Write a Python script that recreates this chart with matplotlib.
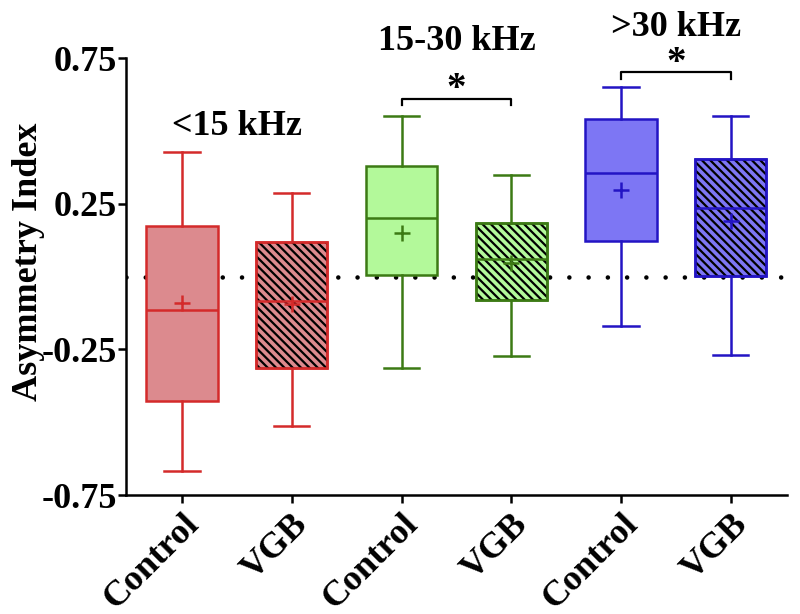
import numpy as np
import matplotlib
matplotlib.use("Agg")
import matplotlib.pyplot as plt
from matplotlib.patches import PathPatch

plt.rcParams['font.family'] = ['Liberation Serif', 'DejaVu Serif']
plt.rcParams['font.weight'] = 'bold'
plt.rcParams['hatch.linewidth'] = 1.6

# data
labels = ['Control', 'VGB', 'Control', 'VGB', 'Control', 'VGB']
whislo = [-0.669, -0.513, -0.314, -0.272, -0.170, -0.268]
q1 = [-0.428, -0.314, 0.005, -0.081, 0.123, 0.003]
med = [-0.115, -0.084, 0.200, 0.060, 0.355, 0.235]
q3 = [0.175, 0.120, 0.381, 0.183, 0.542, 0.404]
whishi = [0.429, 0.285, 0.550, 0.347, 0.649, 0.552]
means = [-0.091, -0.095, 0.149, 0.046, 0.298, 0.189]
hatched = [False, True, False, True, False, True]

groups = ['<15 kHz', '15-30 kHz', '>30 kHz']
group_y = [0.514, 0.807, 0.855]
sig_pairs = [(2, 3), (4, 5)]
sig_y = [0.611, 0.701]

edge_cols = ['#d42a2a', '#3c7a14', '#2314c4']
face_cols = ['#dc8a8e', '#b3f99a', '#7d76f4']

fig = plt.figure(figsize=(8, 6.14), dpi=100)
ax = fig.add_axes([0.1575, 0.1938, 0.826, 0.7117])

pos = np.arange(len(labels))
stats = [dict(whislo=a, q1=b, med=c, q3=d, whishi=e, mean=f, label=l)
         for a, b, c, d, e, f, l in zip(whislo, q1, med, q3, whishi, means, labels)]

# dotted zero line
ax.axhline(0, color='black', lw=3.3, linestyle=(0, (0.001, 4.2)),
           dash_capstyle='round', zorder=1)

bp = ax.bxp(stats, positions=pos, widths=0.65, capwidths=0.32, patch_artist=True,
            showmeans=True, showfliers=False, manage_ticks=False)

lw = 1.8
for i in range(len(labels)):
    ec = edge_cols[i // 2]
    fc = face_cols[i // 2]
    box = bp['boxes'][i]
    box.set_facecolor(fc)
    box.set_edgecolor(ec)
    box.set_linewidth(lw)
    box.set_zorder(2)
    if hatched[i]:
        h = PathPatch(box.get_path(), facecolor='none', edgecolor='black',
                      hatch='\\\\\\\\', lw=0, zorder=2.1)
        ax.add_patch(h)
        o = PathPatch(box.get_path(), facecolor='none', edgecolor=ec, lw=lw, zorder=2.2)
        ax.add_patch(o)
    for k in ('whiskers', 'caps'):
        for ln in bp[k][2 * i:2 * i + 2]:
            ln.set_color(ec)
            ln.set_linewidth(lw)
    bp['medians'][i].set_color(ec)
    bp['medians'][i].set_linewidth(lw)
    bp['medians'][i].set_zorder(2.3)
    m = bp['means'][i]
    m.set_marker('+')
    m.set_markersize(11)
    m.set_markeredgewidth(1.8)
    m.set_markeredgecolor(ec)
    m.set_zorder(2.4)

# group titles
for g, (name, y) in enumerate(zip(groups, group_y)):
    ax.text(pos[2 * g:2 * g + 2].mean(), y, name, ha='center', va='center',
            fontsize=26, fontweight='bold', clip_on=False)

# significance brackets
for (a, b), y in zip(sig_pairs, sig_y):
    ax.plot([pos[a], pos[a], pos[b], pos[b]], [y - 0.022, y, y, y - 0.022],
            color='black', lw=1.6, clip_on=False)
    ax.text((pos[a] + pos[b]) / 2, y + 0.03, '*', ha='center', va='center',
            fontsize=28, fontweight='bold', clip_on=False)

ax.set_xlim(-0.51, 5.51)
ax.set_ylim(-0.75, 0.75)
ax.set_yticks([-0.75, -0.25, 0.25, 0.75])
ax.set_yticklabels(['-0.75', '-0.25', '0.25', '0.75'])
ax.set_xticks(pos)
ax.set_xticklabels(labels, rotation=45, ha='right', rotation_mode='anchor')
ax.tick_params(labelsize=26, width=1.8, length=6)
ax.tick_params(axis='y', pad=0.5)
ax.tick_params(axis='x', pad=3)
for s in ('top', 'right'):
    ax.spines[s].set_visible(False)
for s in ('left', 'bottom'):
    ax.spines[s].set_linewidth(1.8)

ax.set_ylabel('Asymmetry Index', fontsize=26, fontweight='bold')
ax.yaxis.set_label_coords(-0.122, 0.533)

fig.savefig('out.png', dpi=100)
